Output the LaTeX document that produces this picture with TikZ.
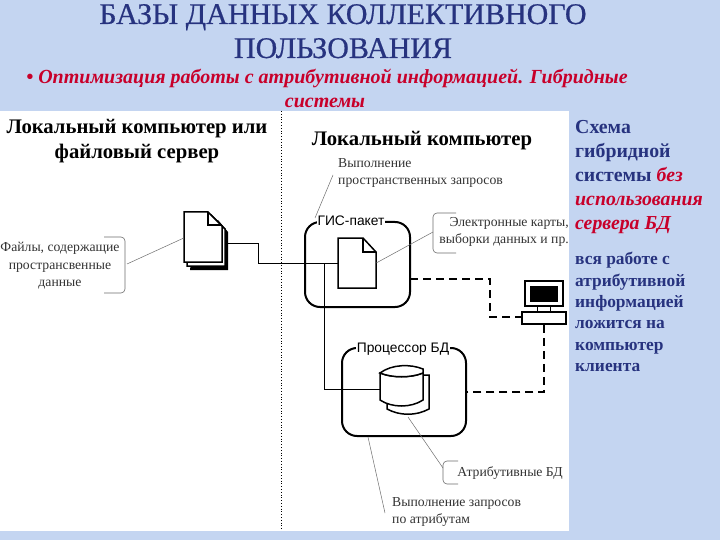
\documentclass[tikz,border=0pt]{standalone}
\usepackage{fontspec}
\setmainfont{Liberation Serif}
\newfontfamily\arialf{Liberation Sans}
\newfontfamily\titlef[FakeBold=0.6]{Liberation Serif}
\usetikzlibrary{calc}
\definecolor{bgblue}{HTML}{C4D5F1}
\definecolor{navy}{HTML}{27337F}
\definecolor{redt}{HTML}{C8002A}
\definecolor{thin}{HTML}{6E6E6E}
\definecolor{captxt}{HTML}{333333}
\tikzset{
  x=1pt,y=-1pt,
  box/.style={draw=black,line width=2pt,rounded corners=15pt},
  wire/.style={draw=black,line width=1pt},
  dashwire/.style={draw=black,line width=1.2pt,dash pattern=on 8pt off 5pt},
  thinline/.style={draw=thin,line width=0.5pt},
  bracket/.style={draw=thin,line width=0.6pt,rounded corners=4pt},
  pagefill/.style={draw=black,line width=1.5pt,fill=white,line join=miter},
  titletxt/.style={text=navy,font=\titlef\fontsize{30}{34}\selectfont,inner sep=0pt,anchor=base},
  subtxt/.style={text=redt,font=\fontsize{20}{24}\selectfont\bfseries\itshape,inner sep=0pt,anchor=base},
  headtxt/.style={text=black,font=\fontsize{20.7}{25}\selectfont\bfseries,inner sep=0pt,align=center,anchor=center},
  captext/.style={text=captxt,font=\fontsize{13.7}{17.5}\selectfont,inner sep=0pt},
  boxlabel/.style={fill=white,text=black,font=\arialf\fontsize{13.8}{15}\selectfont,inner sep=1pt,anchor=center},
  sidetxt/.style={text=navy,font=\fontsize{19.8}{24}\selectfont\bfseries,inner sep=0pt,align=left,anchor=north west},
  sidetxtb/.style={text=navy,font=\fontsize{17.4}{21.4}\selectfont\bfseries,inner sep=0pt,align=left,anchor=north west},
}
\begin{document}
\begin{tikzpicture}
\useasboundingbox (0,0) rectangle (720,540);
\fill[bgblue] (0,0) rectangle (720,540);
\fill[white] (0,111) rectangle (569,531);

\node[titletxt] (t1) at (343,24) {БАЗЫ ДАННЫХ КОЛЛЕКТИВНОГО};
\node[titletxt] (t2) at (343,58) {ПОЛЬЗОВАНИЯ};
\node[subtxt] (s1) at (327,84) {• Оптимизация работы с атрибутивной информацией. Гибридные};
\node[subtxt] (s2) at (325,108) {системы};

\coordinate (dt) at (281,111);
\coordinate (db) at (281,530);
\draw[black,line width=0.8pt,dotted] (dt) -- (db);

\node[headtxt] (h1) at (137,141) {Локальный компьютер или\\файловый сервер};
\node[headtxt] (h2) at (422,141) {Локальный компьютер};

% stacked page
\fill[black] (196,224) -- (218,220) -- (228,232) -- (228,270) -- (190,270) -- cycle;
\draw[pagefill] (187,215) -- (211,215) -- (225,229) -- (225,266) -- (187,266) -- cycle;
\draw[pagefill] (184,212) -- (208,212) -- (222,226) -- (222,262) -- (184,262) -- cycle;
\draw[line width=1.5pt] (208,212) -- (208,225) -- (222,225);
\node[inner sep=0pt,minimum width=44pt,minimum height=58pt] (stack) at (206,241) {};

% GIS box
\draw[box] (305,222) rectangle (410,307);
\node[inner sep=0pt,minimum width=105pt,minimum height=85pt] (gis) at (357.5,264.5) {};
\node[boxlabel] (gisl) at (351,221) {ГИС-пакет};
% page in GIS
\draw[pagefill] (338,238) -- (363,238) -- (376,252) -- (376,288) -- (338,288) -- cycle;
\draw[line width=1.5pt] (363,238) -- (363,252) -- (376,252);
\node[inner sep=0pt,minimum width=38pt,minimum height=50pt] (doc) at (357,263) {};

% DB box
\draw[box] (342,348) rectangle (466,436);
\node[inner sep=0pt,minimum width=124pt,minimum height=88pt] (dbb) at (404,392) {};
\node[boxlabel] (dbl) at (403,349) {Процессор БД};
% cylinders
\draw[pagefill] (387,375) -- (429,375) -- (429,409) .. controls (416,416) and (400,416) .. (387,409) -- cycle;
\draw[pagefill] (380,373) .. controls (392,378) and (411,378) .. (423,373) -- (423,400) .. controls (411,408) and (392,408) .. (380,400) -- cycle;
\draw[pagefill] (380,373) .. controls (392,364) and (411,364) .. (423,369) -- (423,373) .. controls (411,378) and (392,378) .. (380,373) -- cycle;
\node[inner sep=0pt,minimum width=43pt,minimum height=37pt] (cyl) at (401.5,386.5) {};

% computer
\node[draw=black,line width=1.5pt,fill=white,inner sep=0pt,minimum width=38pt,minimum height=25pt] (mon) at (544,293.5) {};
\fill[black] (530,286) rectangle (558,302);
\node[draw=black,line width=1pt,fill=white,inner sep=0pt,minimum width=13pt,minimum height=6pt] (neck) at (543.5,309) {};
\node[draw=black,line width=1.5pt,fill=white,inner sep=0pt,minimum width=44pt,minimum height=12pt] (base) at (544,318) {};

% wires
\coordinate (w1) at (258,243);
\coordinate (w2) at (258,263);
\coordinate (j) at (324,263);
\coordinate (j2) at (324,389);
\draw[wire] (stack.east |- w1) -- (w1) -- (w2) -- (doc.west |- w2);
\draw[wire] (j) -- (j2) -- (cyl.west |- j2);
\coordinate (g1) at (490,279);
\coordinate (g2) at (490,317);
\draw[dashwire] (gis.east |- g1) -- (g1) -- (g2) -- (base.west |- g2);
\coordinate (d1) at (544,392);
\draw[dashwire] (base.south) -- (d1) -- (dbb.east |- d1);

% captions
\node[captext,align=left,anchor=north west] (c1) at (338,158) {Выполнение\\пространственных запросов};
\coordinate (c1p) at (333,175);
\draw[thinline] (c1p) -- (315,218);

\node[captext,align=center,anchor=center] (c2) at (60,266) {Файлы, содержащие\\пространсвенные\\данные};
\draw[bracket] (104,237) -- (125,237) -- (125,293) -- (104,293);
\coordinate (c2p) at (127,264);
\draw[thinline] (c2p) -- (stack.west |- 0,238);

\node[captext,align=right,anchor=east] (c3) at (569,232) {Электронные карты,\\выборки данных и пр.};
\draw[bracket] (456,213) -- (433,213) -- (433,253) -- (456,253);
\coordinate (c3p) at (433,232);
\draw[thinline] (c3p) -- (doc.east |- 0,263);

\node[captext,anchor=center] (c4) at (510,473) {Атрибутивные БД};
\draw[bracket] (458,461) -- (443,461) -- (443,484) -- (458,484);
\coordinate (c4p) at (443,468);
\draw[thinline] (c4p) -- (408,417);

\node[captext,align=left,anchor=north west] (c5) at (392,497) {Выполнение запросов\\по атрибутам};
\coordinate (c5p) at (385,513);
\draw[thinline] (c5p) -- (368,437);

% side text
\node[sidetxt] (r1) at (575,120) {Схема\\гибридной\\системы {\color{redt}\itshape без}\\{\color{redt}\itshape использования}\\{\color{redt}\itshape сервера БД}};
\node[sidetxtb] (r2) at (575,252) {вся работе с\\атрибутивной\\информацией\\ложится на\\компьютер\\клиента};
\end{tikzpicture}
\end{document}
